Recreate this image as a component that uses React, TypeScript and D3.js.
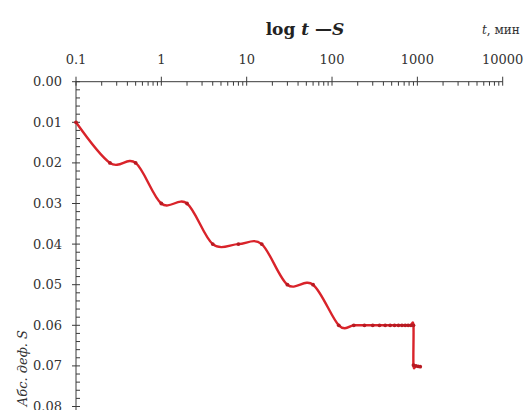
import React from "react";
import * as d3 from "d3";

// Settlement test readings: elapsed time (min) and absolute deformation S
const times = [
  0.1, 0.25, 0.5, 1, 2, 4, 8, 15, 30, 60, 120, 180, 240, 300, 360, 420, 480,
  540, 600, 660, 720, 780, 840, 900, 900, 960, 1020, 1080,
];
const deform = [
  0.01, 0.02, 0.02, 0.03, 0.03, 0.04, 0.04, 0.04, 0.05, 0.05, 0.06, 0.06,
  0.06, 0.06, 0.06, 0.06, 0.06, 0.06, 0.06, 0.06, 0.06, 0.06, 0.06, 0.06,
  0.0698, 0.07, 0.0701, 0.0702,
];

const xTickValues = [0.1, 1, 10, 100, 1000, 10000];
const xTickLabels = ["0.1", "1", "10", "100", "1000", "10000"];
const yTickValues = [0, 0.01, 0.02, 0.03, 0.04, 0.05, 0.06, 0.07, 0.08];
const yTickLabels = ["0.00", "0.01", "0.02", "0.03", "0.04", "0.05", "0.06", "0.07", "0.08"];

const W = 528;
const H = 410;
const FONT = "'DejaVu Serif', serif";
const AXIS = "#3a3a3a";
const TEXT = "#333";

export default function App() {
  const x = d3.scaleLog().domain([0.1, 10000]).range([76, 502.7]);
  const y = d3.scaleLinear().domain([0, 0.08]).range([81.7, 406.5]);

  const points = times.map((t, i) => ({ t, s: deform[i] }));
  const line = d3
    .line<{ t: number; s: number }>()
    .x((d) => x(d.t))
    .y((d) => y(d.s))
    .curve(d3.curveCardinal.tension(0));

  const minorX = x.ticks().filter((v) => !xTickValues.some((m) => Math.abs(m - v) < 1e-9));
  const minorY = d3.range(0, 0.0801, 0.002).filter((v) => Math.abs(v * 100 - Math.round(v * 100)) > 1e-6);

  const x0 = x.range()[0];
  const x1 = x.range()[1];
  const y0 = y.range()[0];
  const y1 = H;

  return (
    <svg
      width={W}
      height={H}
      style={{ position: "absolute", left: 0, top: 0, background: "#fff", display: "block" }}
    >
      <rect x={0} y={0} width={W} height={H} fill="#fff" />

      {/* title */}
      <text x={305} y={35} textAnchor="middle" fontFamily={FONT} fontSize={17} fontWeight="bold" fill="#222">
        <tspan>log </tspan>
        <tspan fontStyle="italic">t</tspan>
        <tspan> —</tspan>
        <tspan fontStyle="italic">S</tspan>
      </text>
      <text x={482} y={34} fontFamily={FONT} fontSize={12} fill={TEXT}>
        <tspan fontStyle="italic">t</tspan>
        <tspan>, мин</tspan>
      </text>

      {/* top log axis */}
      <line x1={x0} x2={x1} y1={y0} y2={y0} stroke={AXIS} strokeWidth={1} />
      {minorX.map((v, i) => (
        <line key={"mx" + i} x1={x(v)} x2={x(v)} y1={y0} y2={y0 + 4} stroke={AXIS} strokeWidth={1} />
      ))}
      {xTickValues.map((v, i) => (
        <g key={"Mx" + i}>
          <line x1={x(v)} x2={x(v)} y1={y0 - 5} y2={y0 + 4} stroke={AXIS} strokeWidth={1} />
          <text x={x(v)} y={64} textAnchor="middle" fontFamily={FONT} fontSize={13} fill={TEXT}>
            {xTickLabels[i]}
          </text>
        </g>
      ))}

      {/* left deformation axis */}
      <line x1={x0} x2={x0} y1={y0} y2={y1} stroke={AXIS} strokeWidth={1} />
      {minorY.map((v, i) => (
        <line key={"my" + i} x1={x0} x2={x0 + 4} y1={y(v)} y2={y(v)} stroke={AXIS} strokeWidth={1} />
      ))}
      {yTickValues.map((v, i) => (
        <g key={"My" + i}>
          <line x1={x0 - 4} x2={x0 + 4} y1={y(v)} y2={y(v)} stroke={AXIS} strokeWidth={1} />
          <text
            x={62}
            y={y(v)}
            dy="0.35em"
            textAnchor="end"
            fontFamily={FONT}
            fontSize={13}
            fill={TEXT}
          >
            {yTickLabels[i]}
          </text>
        </g>
      ))}
      <text
        transform="translate(27,330) rotate(-90)"
        textAnchor="end"
        fontFamily={FONT}
        fontSize={13}
        fontStyle="italic"
        fill={TEXT}
      >
        Абс. деф. S
      </text>

      {/* settlement curve */}
      <path d={line(points) || ""} fill="none" stroke="#d9232a" strokeWidth={2.4} strokeLinejoin="round" strokeLinecap="round" />
      {points.map((p, i) => (
        <circle key={"p" + i} cx={x(p.t)} cy={y(p.s)} r={1.9} fill="#b81a22" />
      ))}
    </svg>
  );
}
